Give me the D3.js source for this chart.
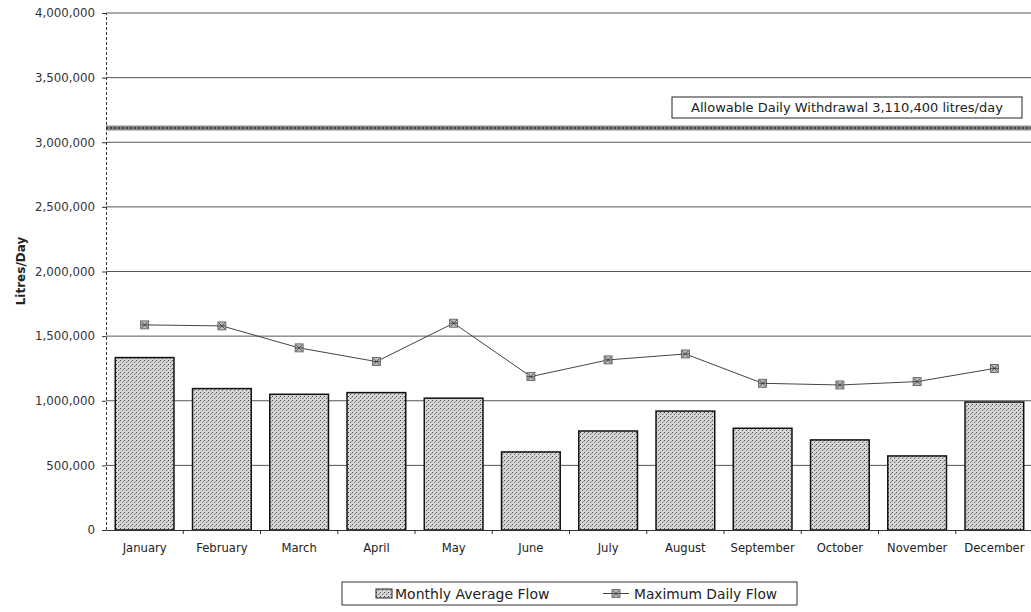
<!DOCTYPE html>
<html lang="en">
<head>
<meta charset="UTF-8">
<script src="https://d3js.org/d3.v7.min.js"></script>
<title>Monthly flow</title>
<style>
  body { margin: 0; background: #fff; }
  text { font-family: "DejaVu Sans", "Liberation Sans", Arial, sans-serif; }
</style>
</head>
<body>
<div id="chart"></div>
<script>
  // data
  var months = ["January", "February", "March", "April", "May", "June",
                "July", "August", "September", "October", "November", "December"];
  var avgFlow = [1334000, 1094000, 1050000, 1063000, 1020000, 604000,
                 766000, 920000, 787000, 697000, 573000, 990000];
  var maxFlow = [1587000, 1579000, 1409000, 1303000, 1600000, 1187000,
                 1316000, 1362000, 1135000, 1122000, 1148000, 1250000];
  var yTicks = [0, 500000, 1000000, 1500000, 2000000, 2500000, 3000000, 3500000, 4000000];
  var allowable = 3110400;
  var allowableLabel = "Allowable Daily Withdrawal 3,110,400 litres/day";

  var W = 1031, H = 612;
  var font = "'DejaVu Sans', 'Liberation Sans', Arial, sans-serif";
  var svg = d3.select("#chart").append("svg")
      .attr("width", W).attr("height", H);

  // stipple fill for the bars
  var defs = svg.append("defs");
  var pat = defs.append("pattern").attr("id", "stip")
      .attr("width", 4).attr("height", 4).attr("patternUnits", "userSpaceOnUse");
  pat.append("rect").attr("width", 4).attr("height", 4).attr("fill", "#d6d6d6");
  pat.append("rect").attr("x", 0).attr("y", 0).attr("width", 1).attr("height", 1).attr("fill", "#444");
  pat.append("rect").attr("x", 2).attr("y", 2).attr("width", 1).attr("height", 1).attr("fill", "#666");
  pat.append("rect").attr("x", 3).attr("y", 1).attr("width", 1).attr("height", 1).attr("fill", "#999");

  var x = d3.scaleBand().domain(months).range([106, 1033]).paddingInner(0.24).paddingOuter(0.12);
  var y = d3.scaleLinear().domain([0, 4000000]).range([530, 13]);

  // gridlines
  svg.append("g").selectAll("line").data(yTicks.slice(1)).enter().append("line")
      .attr("x1", 106).attr("x2", W)
      .attr("y1", d => y(d)).attr("y2", d => y(d))
      .attr("stroke", "#555").attr("stroke-width", 1);

  // allowable withdrawal line
  svg.append("line")
      .attr("x1", 106).attr("x2", W)
      .attr("y1", y(allowable)).attr("y2", y(allowable))
      .attr("stroke", "#888").attr("stroke-width", 5);
  svg.append("line")
      .attr("x1", 106).attr("x2", W)
      .attr("y1", y(allowable)).attr("y2", y(allowable))
      .attr("stroke", "#444").attr("stroke-width", 2).attr("stroke-dasharray", "2,2");

  // bars
  svg.append("g").selectAll("rect").data(avgFlow).enter().append("rect")
      .attr("x", (d, i) => x(months[i]))
      .attr("width", x.bandwidth())
      .attr("y", d => y(d))
      .attr("height", d => y(0) - y(d))
      .attr("fill", "url(#stip)")
      .attr("stroke", "#111").attr("stroke-width", 1.5);

  // y axis
  var yAxis = svg.append("g").attr("transform", "translate(106,0)")
      .call(d3.axisLeft(y).tickValues(yTicks).tickSize(4).tickPadding(7)
            .tickFormat(d3.format(",")));
  yAxis.select(".domain").attr("stroke", "#333").attr("stroke-dasharray", "3,2");
  yAxis.selectAll("line").attr("stroke", "#333");
  yAxis.selectAll("text").attr("font-size", 11.8).attr("fill", "#333")
      .style("font-family", font);

  // x axis
  var xAxis = svg.append("g").attr("transform", "translate(0,530)")
      .call(d3.axisBottom(x).tickSize(0).tickPadding(14));
  xAxis.select(".domain").attr("stroke", "#333");
  xAxis.selectAll("text").attr("font-size", 11.6).attr("fill", "#222")
      .style("font-family", font);
  // small ticks between categories
  svg.append("g").selectAll("line").data(months.slice(1)).enter().append("line")
      .attr("x1", d => x(d) - x.step() * x.paddingInner() / 2)
      .attr("x2", d => x(d) - x.step() * x.paddingInner() / 2)
      .attr("y1", 530).attr("y2", 534)
      .attr("stroke", "#333");

  // max daily flow line
  var line = d3.line()
      .x((d, i) => x(months[i]) + x.bandwidth() / 2)
      .y(d => y(d));
  svg.append("path").datum(maxFlow).attr("d", line)
      .attr("fill", "none").attr("stroke", "#444").attr("stroke-width", 1);

  function marker(g, cx, cy) {
    g.append("rect").attr("x", cx - 4).attr("y", cy - 4).attr("width", 8).attr("height", 8)
        .attr("fill", "#bbb").attr("stroke", "#555").attr("stroke-width", 0.8);
    g.append("path").attr("d", "M" + (cx - 3) + "," + (cy - 3) + "L" + (cx + 3) + "," + (cy + 3) +
        "M" + (cx + 3) + "," + (cy - 3) + "L" + (cx - 3) + "," + (cy + 3) +
        "M" + (cx - 4) + "," + cy + "L" + (cx + 4) + "," + cy)
        .attr("stroke", "#333").attr("stroke-width", 0.8);
  }
  var mg = svg.append("g");
  maxFlow.forEach((d, i) => marker(mg, x(months[i]) + x.bandwidth() / 2, y(d)));

  // annotation box
  svg.append("rect").attr("x", 672).attr("y", 97).attr("width", 350).attr("height", 21)
      .attr("fill", "#fff").attr("stroke", "#222").attr("stroke-width", 1);
  svg.append("text").attr("x", 847).attr("y", 112).attr("text-anchor", "middle")
      .attr("font-size", 13).attr("fill", "#222").text(allowableLabel);

  // y title
  svg.append("text").attr("transform", "translate(25,271) rotate(-90)")
      .attr("text-anchor", "middle").attr("font-size", 12).attr("font-weight", "bold")
      .attr("fill", "#222").text("Litres/Day");

  // legend
  var lg = svg.append("g");
  lg.append("rect").attr("x", 342).attr("y", 582).attr("width", 455).attr("height", 23)
      .attr("fill", "#fff").attr("stroke", "#333").attr("stroke-width", 1);
  lg.append("rect").attr("x", 376).attr("y", 589).attr("width", 16).attr("height", 9)
      .attr("fill", "url(#stip)").attr("stroke", "#222");
  lg.append("text").attr("x", 395).attr("y", 598.5).attr("font-size", 14).attr("fill", "#222")
      .text("Monthly Average Flow");
  lg.append("line").attr("x1", 603).attr("x2", 629).attr("y1", 593.5).attr("y2", 593.5)
      .attr("stroke", "#444");
  marker(lg, 616, 593.5);
  lg.append("text").attr("x", 634).attr("y", 598.5).attr("font-size", 13.8).attr("fill", "#222")
      .text("Maximum Daily Flow");
</script>
</body>
</html>
